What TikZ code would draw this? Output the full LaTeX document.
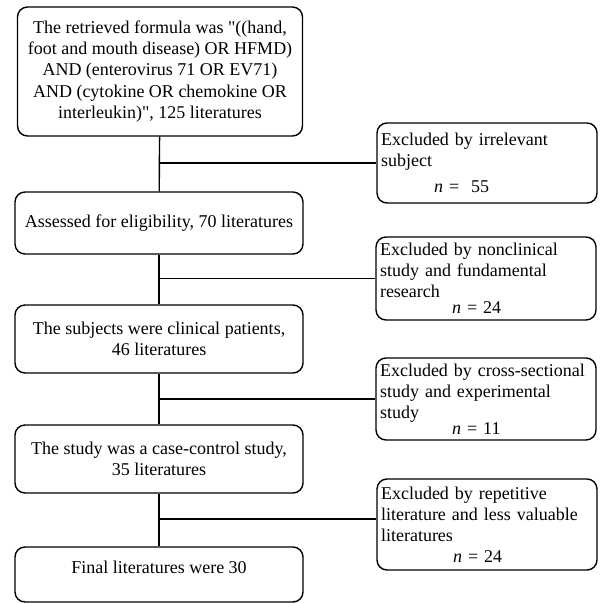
\documentclass[tikz,border=0pt]{standalone}
\usepackage{fontspec}
\setmainfont{Liberation Serif}
\newfontfamily\plainfont{Liberation Serif}
\newcommand{\dq}{{\plainfont"}}
\begin{document}
\begin{tikzpicture}[
    x=0.5pt, y=-0.5pt,
    stage/.style={draw, rounded corners=5pt, line width=0.7pt, align=center,
      minimum width=144pt, inner sep=0pt, font=\fontsize{9}{10.65}\selectfont},
    excl/.style={draw, rounded corners=5pt, line width=0.7pt, align=left,
      text width=106pt, inner xsep=2pt, inner ysep=0pt, minimum width=110pt,
      font=\fontsize{9}{10.5}\selectfont},
    link/.style={line width=0.7pt}
  ]
  \useasboundingbox (0,0) rectangle (601,603);

  % main stages
  \node[stage, minimum width=142.5pt, minimum height=64.5pt] (s1) at (160,71.5)
    {The retrieved formula was \dq((hand,\\foot and mouth disease) OR HFMD)\\AND (enterovirus 71 OR EV71)\\AND (cytokine OR chemokine OR\\interleukin)\dq, 125 literatures};
  \node[stage, minimum height=31pt] (s2) at (159,223) {Assessed for eligibility, 70 literatures};
  \node[stage, minimum height=34pt] (s3) at (159,339) {The subjects were clinical patients,\\46 literatures};
  \node[stage, minimum height=34pt] (s4) at (159,459) {The study was a case-control study,\\35 literatures};
  \node[stage, minimum height=27.5pt] (s5) at (159,574.5) {\raisebox{7pt}{Final literatures were 30}};

  % exclusions
  \node[excl, minimum height=40pt] (x1) at (487,163)
    {Excluded by irrelevant\\subject\\[2.5pt]\hspace*{26.5pt}\textit{n} = \ 55};
  \node[excl, minimum height=41.5pt] (x2) at (486,278.5)
    {Excluded by nonclinical\\study and fundamental\\research\\[-2.5pt]\hspace*{36pt}\textit{n} = 24};
  \node[excl, minimum height=41pt] (x3) at (486,399)
    {Excluded by cross-sectional\\study and experimental\\study\\[-2.5pt]\hspace*{36pt}\textit{n} = 11};
  \node[excl, minimum height=45.5pt] (x4) at (487,524.5)
    {Excluded by repetitive\\literature and less valuable\\literatures\\\hspace*{36pt}\textit{n} = 24};

  % flow
  \draw[link] (s1) -- (s2);
  \draw[link] (s2) -- (s3);
  \draw[link] (s3) -- (s4);
  \draw[link] (s4) -- (s5);
  \draw[link] (s1.south |- x1.west) -- (x1);
  \draw[link] (s2.south |- x2.west) -- (x2);
  \draw[link] (s3.south |- x3.west) -- (x3);
  \draw[link] (s4.south |- 0,519) -- (x4.west |- 0,519);
\end{tikzpicture}
\end{document}
